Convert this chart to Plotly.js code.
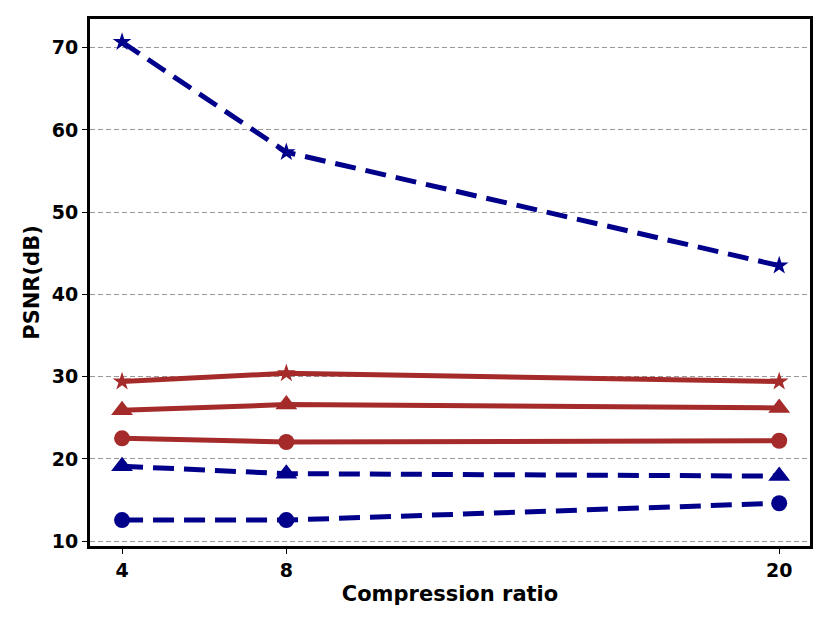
<!DOCTYPE html>
<html>
<head>
<meta charset="utf-8">
<script src="https://cdn.plot.ly/plotly-3.0.1.min.js"></script>
<style>
  html, body { margin: 0; padding: 0; background: #fff; }
  #chart { width: 830px; height: 623px; }
</style>
</head>
<body>
<div id="chart"></div>
<script>
// compression ratios on the x axis
var ratios = [4, 8, 20];

// PSNR (dB) per method
var blueStar = [70.7, 57.3, 43.5];
var blueTriangle = [19.1, 18.2, 17.9];
var blueCircle = [12.55, 12.55, 14.6];
var redStar = [29.4, 30.4, 29.4];
var redTriangle = [25.9, 26.6, 26.2];
var redCircle = [22.5, 22.05, 22.2];

var yTicks = [10, 20, 30, 40, 50, 60, 70];

var NAVY = '#00008b';
var BROWN = '#a52a2a';

function trace(y, color, symbol, size, dashed) {
    return {
        x: ratios,
        y: y,
        type: 'scatter',
        mode: 'lines+markers',
        line: { color: color, width: 5, dash: dashed ? '21px,10px' : 'solid' },
        marker: { color: color, symbol: symbol, size: size },
        showlegend: false
    };
}

var data = [
    trace(redStar, BROWN, 'star', 14, false),
    trace(redTriangle, BROWN, 'triangle-up', 19, false),
    trace(redCircle, BROWN, 'circle', 16, false),
    trace(blueStar, NAVY, 'star', 14, true),
    trace(blueTriangle, NAVY, 'triangle-up', 19, true),
    trace(blueCircle, NAVY, 'circle', 16, true)
];

var tickFont = { family: 'DejaVu Sans', size: 19, color: '#000', weight: 'bold' };
var titleFont = { family: 'DejaVu Sans', size: 21, color: '#000' };

var layout = {
    width: 830,
    height: 623,
    margin: { l: 90, r: 20, t: 19, b: 77 },
    paper_bgcolor: '#fff',
    plot_bgcolor: '#fff',
    font: { family: 'DejaVu Sans', color: '#000' },
    xaxis: {
        range: [3.22, 20.75],
        tickvals: ratios,
        ticktext: ratios.map(String),
        ticks: 'outside',
        ticklen: 5,
        tickwidth: 1,
        tickcolor: '#000',
        tickfont: tickFont,
        showgrid: false,
        zeroline: false,
        showline: true,
        mirror: true,
        linecolor: '#000',
        linewidth: 3,
        title: { text: '<b>Compression ratio</b>', font: titleFont, standoff: 7 }
    },
    yaxis: {
        range: [9.4, 73.5],
        tickvals: yTicks,
        ticks: 'outside',
        ticklen: 5,
        tickwidth: 1,
        tickcolor: '#000',
        tickfont: tickFont,
        showgrid: true,
        gridcolor: '#999',
        gridwidth: 1,
        griddash: '5px,3px',
        zeroline: false,
        showline: true,
        mirror: true,
        linecolor: '#000',
        linewidth: 3,
        title: { text: '<b>PSNR(dB)</b>', font: titleFont, standoff: 7 }
    }
};

Plotly.newPlot('chart', data, layout, { displayModeBar: false, staticPlot: true });
</script>
</body>
</html>
